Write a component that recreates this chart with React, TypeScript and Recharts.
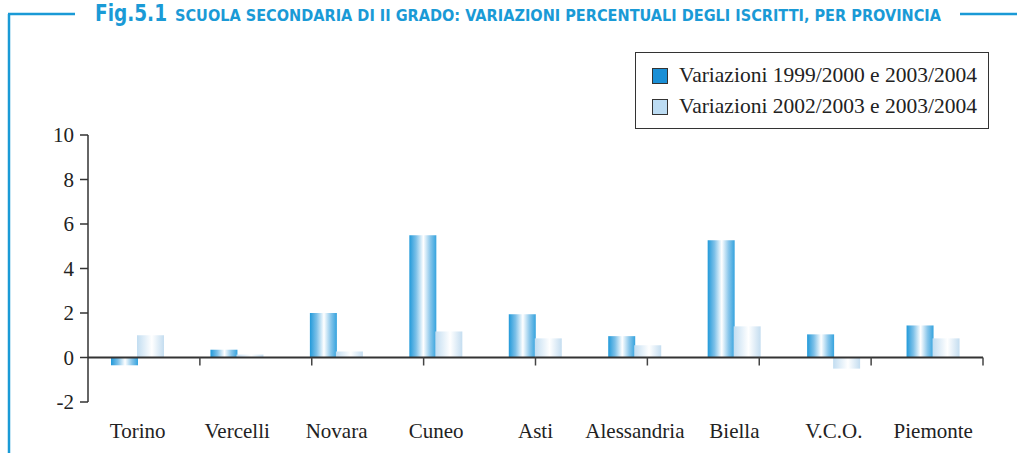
import React from 'react';
import { BarChart, Bar, XAxis, YAxis, ReferenceLine, Legend } from 'recharts';

const categories = ['Torino', 'Vercelli', 'Novara', 'Cuneo', 'Asti', 'Alessandria', 'Biella', 'V.C.O.', 'Piemonte'];
const var9900 = [-0.35, 0.35, 2.0, 5.5, 1.94, 0.96, 5.27, 1.04, 1.44];
const var0203 = [1.0, 0.13, 0.27, 1.17, 0.86, 0.55, 1.4, -0.5, 0.86];
const seriesNames = ['Variazioni 1999/2000 e 2003/2004', 'Variazioni 2002/2003 e 2003/2004'];
const yTicks = [-2, 0, 2, 4, 6, 8, 10];
const titleFig = 'Fig.5.1';
const titleText = 'SCUOLA SECONDARIA DI II GRADO: VARIAZIONI PERCENTUALI DEGLI ISCRITTI, PER PROVINCIA';

const data = categories.map((c, i) => ({ name: c, a: var9900[i], b: var0203[i] }));
const boundaries = categories.map((_, i) => i + 1);

const BLUE = '#1a9ad6';
const SERIF = '"Liberation Serif", "DejaVu Serif", serif';
const swatches = ['#1a8fd6', '#bcdcf3'];

const renderLegend = (props: any) => {
  const payload = props.payload || [];
  return (
    <div
      style={{
        border: '1px solid #333',
        width: 354,
        height: 77,
        boxSizing: 'border-box',
        paddingTop: 7,
        paddingLeft: 16,
        background: '#fff',
      }}
    >
      {payload.map((entry: any, i: number) => (
        <div
          key={i}
          style={{
            display: 'flex',
            alignItems: 'center',
            height: 31,
            fontFamily: SERIF,
            fontSize: 21.5,
            color: '#222',
            whiteSpace: 'nowrap',
          }}
        >
          <span
            style={{
              display: 'inline-block',
              width: 14,
              height: 14,
              border: '1px solid #333',
              background: swatches[i],
              marginRight: 11,
            }}
          />
          {entry.value}
        </div>
      ))}
    </div>
  );
};

export default function App() {
  return (
    <div style={{ position: 'absolute', left: 0, top: 0, width: 1017, height: 453, background: '#fff' }}>
      <svg
        width={1017}
        height={453}
        style={{ position: 'absolute', left: 0, top: 0, pointerEvents: 'none' }}
      >
        <line x1={9} y1={14} x2={9} y2={453} stroke={BLUE} strokeWidth={2.5} />
        <line x1={8} y1={14} x2={75} y2={14} stroke={BLUE} strokeWidth={2.5} />
        <line x1={960} y1={14} x2={1017} y2={14} stroke={BLUE} strokeWidth={2.5} />
        <text
          x={95}
          y={21}
          fill={BLUE}
          fontFamily='"DejaVu Sans Condensed", "DejaVu Sans", sans-serif'
          fontWeight="bold"
          fontSize={23}
          textLength={72}
          lengthAdjust="spacingAndGlyphs"
        >
          {titleFig}
        </text>
        <text
          x={175}
          y={20.5}
          fill={BLUE}
          fontFamily='"DejaVu Sans Condensed", "DejaVu Sans", sans-serif'
          fontWeight="bold"
          fontSize={15}
          textLength={766}
          lengthAdjust="spacingAndGlyphs"
        >
          {titleText}
        </text>
      </svg>
      <div style={{ position: 'absolute', left: 0, top: 0 }}>
        <BarChart
          width={1017}
          height={453}
          data={data}
          margin={{ top: 135, right: 34, bottom: 11, left: 28 }}
          barSize={27}
          barGap={-1}
        >
          <defs>
            <linearGradient id="gradDark" x1="0" y1="0" x2="1" y2="0">
              <stop offset="0%" stopColor="#229ada" />
              <stop offset="25%" stopColor="#7cc0e8" />
              <stop offset="52%" stopColor="#ffffff" />
              <stop offset="78%" stopColor="#86c5ea" />
              <stop offset="100%" stopColor="#35a3de" />
            </linearGradient>
            <linearGradient id="gradLight" x1="0" y1="0" x2="1" y2="0">
              <stop offset="0%" stopColor="#c2ddf1" />
              <stop offset="55%" stopColor="#ffffff" />
              <stop offset="100%" stopColor="#c4ddf0" />
            </linearGradient>
          </defs>
          <XAxis
            dataKey="name"
            axisLine={false}
            tickLine={false}
            tickSize={0}
            tickMargin={21}
            height={40}
            interval={0}
            tick={{ fontFamily: SERIF, fontSize: 21, fill: '#222' }}
          />
          <XAxis xAxisId="n" type="number" domain={[0, categories.length]} allowDataOverflow hide />
          <YAxis
            domain={[-2, 10]}
            ticks={yTicks}
            width={60}
            tickSize={8}
            tickMargin={6}
            axisLine={{ stroke: '#333', strokeWidth: 1.5 }}
            tickLine={{ stroke: '#333', strokeWidth: 1.5 }}
            tick={{ fontFamily: SERIF, fontSize: 21, fill: '#222' }}
            allowDataOverflow
          />
          <Legend
            layout="vertical"
            align="center"
            verticalAlign="middle"
            wrapperStyle={{ left: 635, top: 52, width: 354, height: 77 }}
            content={renderLegend}
          />
          <Bar dataKey="a" name={seriesNames[0]} fill="url(#gradDark)" isAnimationActive={false} />
          <Bar dataKey="b" name={seriesNames[1]} fill="url(#gradLight)" isAnimationActive={false} />
          <ReferenceLine y={0} stroke="#333" strokeWidth={2} />
          {boundaries.map((b) => (
            <ReferenceLine
              key={b}
              xAxisId="n"
              segment={[{ x: b, y: 0 }, { x: b, y: 0 }]}
              shape={(p: any) => (
                <line x1={p.x1} y1={p.y1} x2={p.x1} y2={p.y1 + 8} stroke="#444" strokeWidth={1.5} />
              )}
            />
          ))}
        </BarChart>
      </div>
    </div>
  );
}
